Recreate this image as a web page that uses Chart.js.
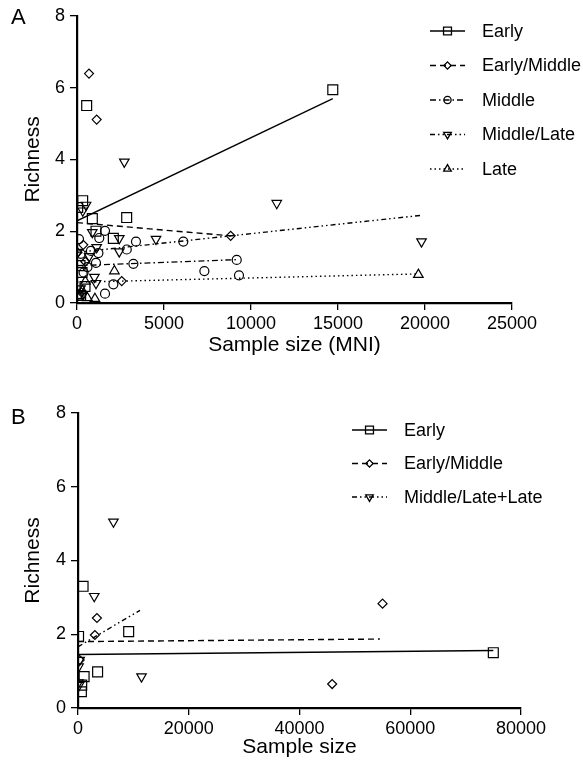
<!DOCTYPE html>
<html>
<head>
<meta charset="utf-8">
<script src="https://cdn.jsdelivr.net/npm/chart.js@4.4.0/dist/chart.umd.min.js"></script>
<style>
  body { margin: 0; background: #fff; }
  #wrap { position: relative; width: 583px; height: 770px; }
  canvas { position: absolute; left: 0; }
  .tag { position: absolute; left: 11px; font: 22px "Liberation Sans", Arial, sans-serif; color: #000; }
</style>
</head>
<body>
<div id="wrap">
  <canvas id="chart-a" width="583" height="390" style="top:0"></canvas>
  <canvas id="chart-b" width="583" height="380" style="top:390px"></canvas>
  <div class="tag" style="top:4px">A</div>
  <div class="tag" style="top:404px">B</div>
</div>
<script>
const FONT = '"Liberation Sans", Arial, Helvetica, sans-serif';

// ---- panel A ----
const aTicksX = [0, 5000, 10000, 15000, 20000, 25000];
const aTicksY = [0, 2, 4, 6, 8];
const aLabels = ["Early", "Early/Middle", "Middle", "Middle/Late", "Late"];

const aEarlyX = [14700, 556, 326, 40, 881, 2855, 1092, 2088, 460, 210, 172, 290];
const aEarlyY = [5.94, 5.5, 2.85, 2.66, 2.35, 2.38, 2.0, 1.8, 0.46, 0.21, 1.04, 0.85];
const aEarlyMidX = [690, 1130, 8830, 2570, 30, 360, 250, 480];
const aEarlyMidY = [6.39, 5.11, 1.87, 0.61, 1.41, 1.62, 0.3, 1.15];
const aMiddleX = [6110, 9180, 9310, 7320, 3390, 2860, 3240, 1610, 1280, 115, 2090, 1610, 1090, 1230, 210, 600, 150, 380, 800, 80];
const aMiddleY = [1.71, 1.2, 0.77, 0.89, 1.71, 1.49, 1.09, 2.01, 1.81, 1.78, 0.52, 0.26, 1.12, 1.39, 1.37, 1.0, 0.2, 0.85, 1.45, 0.25];
const aMidLateX = [2720, 11480, 19800, 4540, 2430, 2430, 880, 520, 330, 1130, 1000, 1090, 40, 700, 200];
const aMidLateY = [3.93, 2.78, 1.71, 1.78, 1.8, 1.43, 1.97, 2.73, 2.57, 1.55, 0.72, 0.55, 1.41, 1.3, 0.4];
const aLateX = [19620, 2150, 1030, 600, 300, 100, 480];
const aLateY = [0.79, 0.89, 0.12, 0.14, 0.35, 0.2, 0.6];

// fitted lines: start / end
const aFitX = [[0, 14700], [0, 8830], [0, 9300], [0, 19750], [0, 19600]];
const aFitY = [[2.29, 5.69], [2.24, 1.87], [1.04, 1.21], [1.41, 2.44], [0.58, 0.81]];

// ---- panel B ----
const bTicksX = [0, 20000, 40000, 60000, 80000];
const bTicksY = [0, 2, 4, 6, 8];
const bLabels = ["Early", "Early/Middle", "Middle/Late+Late"];

const bEarlyX = [915, 100, 9150, 3540, 1100, 670, 610, 75000];
const bEarlyY = [3.3, 1.94, 2.07, 0.98, 0.85, 0.62, 0.44, 1.5];
const bEarlyMidX = [3420, 3050, 55000, 45900, 300];
const bEarlyMidY = [2.44, 1.98, 2.83, 0.65, 1.3];
const bMidLateX = [6400, 2930, 11470, 300, 100, 100, 200];
const bMidLateY = [5.05, 3.03, 0.85, 1.3, 1.12, 0.69, 0.62];

const bFitX = [[0, 75000], [0, 54500], [0, 11200]];
const bFitY = [[1.45, 1.56], [1.8, 1.87], [1.66, 2.65]];

// marker + line style per group
const STYLE = {
  early:   { point: "rect",     rot: 0,   r: 7,   dash: [] },
  earlyMid:{ point: "rectRot",  rot: 0,   r: 4.5, dash: [6, 4] },
  middle:  { point: "circle",   rot: 0,   r: 4.5, dash: [6, 3, 1.5, 3] },
  midLate: { point: "triangle", rot: 180, r: 5.5, dash: [5, 3, 1.5, 3, 1.5, 3] },
  late:    { point: "triangle", rot: 0,   r: 5.5, dash: [1.5, 3] },
};

function drawMarker(ctx, st, x, y, r) {
  ctx.beginPath();
  if (st.point === "rect") {
    const s = r * Math.SQRT2;
    ctx.rect(x - s / 2, y - s / 2, s, s);
  } else if (st.point === "rectRot") {
    ctx.moveTo(x, y - r); ctx.lineTo(x + r, y); ctx.lineTo(x, y + r); ctx.lineTo(x - r, y); ctx.closePath();
  } else if (st.point === "circle") {
    ctx.arc(x, y, r, 0, Math.PI * 2);
  } else {
    const d = st.rot ? -1 : 1;
    ctx.moveTo(x, y - d * r);
    ctx.lineTo(x + r * 0.866, y + d * r * 0.5);
    ctx.lineTo(x - r * 0.866, y + d * r * 0.5);
    ctx.closePath();
  }
  ctx.stroke();
}

const panelLegend = {
  id: "panelLegend",
  afterDatasetsDraw(chart, args, opts) {
    const ctx = chart.ctx;
    opts.keys.forEach((key, i) => {
      const st = STYLE[key];
      const y = opts.y + i * opts.gap;
      ctx.save();
      ctx.strokeStyle = "#000";
      ctx.lineWidth = 1.3;
      ctx.setLineDash(st.dash);
      ctx.beginPath();
      ctx.moveTo(opts.x, y);
      ctx.lineTo(opts.x + 35, y);
      ctx.stroke();
      ctx.setLineDash([]);
      drawMarker(ctx, st, opts.x + 17.5, y, st.r * 0.8);
      ctx.fillStyle = "#000";
      ctx.font = "18px " + FONT;
      ctx.textBaseline = "middle";
      ctx.fillText(opts.labels[i], opts.x + 52, y + 1);
      ctx.restore();
    });
  },
};

function makePanel(canvasId, p) {
  const datasets = [];
  p.groups.forEach((key, i) => {
    const st = STYLE[key];
    datasets.push({
      label: p.labels[i],
      data: p.xs[i].map((x, j) => ({ x: x, y: p.ys[i][j] })),
      pointStyle: st.point,
      pointRotation: st.rot,
      pointRadius: st.r,
      pointBorderWidth: 1.2,
      pointBorderColor: "#000",
      pointBackgroundColor: "transparent",
      order: 0,
    });
    datasets.push({
      label: p.labels[i] + " fit",
      data: p.fitX[i].map((x, j) => ({ x: x, y: p.fitY[i][j] })),
      showLine: true,
      pointRadius: 0,
      borderColor: "#000",
      borderWidth: 1.4,
      borderDash: st.dash,
      order: 1,
    });
  });

  const tickFont = { family: FONT, size: 18 };
  const titleFont = { family: FONT, size: 21 };

  return new Chart(document.getElementById(canvasId), {
    type: "scatter",
    data: { datasets: datasets },
    plugins: [panelLegend],
    options: {
      responsive: false,
      devicePixelRatio: 1,
      animation: false,
      layout: { padding: p.padding },
      plugins: {
        legend: { display: false },
        tooltip: { enabled: false },
        panelLegend: { keys: p.groups, labels: p.labels, x: p.legendX, y: p.legendY, gap: p.legendGap },
      },
      scales: {
        x: {
          type: "linear",
          min: p.ticksX[0],
          max: p.ticksX[p.ticksX.length - 1],
          ticks: {
            stepSize: p.ticksX[1] - p.ticksX[0],
            color: "#000",
            font: tickFont,
            padding: 3,
            maxRotation: 0,
            autoSkip: false,
            callback: (v) => String(v),
          },
          grid: { drawOnChartArea: false, drawTicks: true, tickLength: 7, color: "#000", lineWidth: 1.3 },
          border: { display: true, color: "#000", width: 2.2 },
          title: { display: true, text: p.titleX, color: "#000", font: titleFont, padding: 0 },
          afterFit: (s) => { s.height = p.xHeight; },
        },
        y: {
          type: "linear",
          min: p.ticksY[0],
          max: p.ticksY[p.ticksY.length - 1],
          ticks: { stepSize: p.ticksY[1] - p.ticksY[0], color: "#000", font: tickFont, padding: 5, callback: (v) => String(v) },
          grid: { drawOnChartArea: false, drawTicks: true, tickLength: 7, color: "#000", lineWidth: 1.3 },
          border: { display: true, color: "#000", width: 2.2 },
          title: { display: true, text: "Richness", color: "#000", font: titleFont, padding: 0 },
          afterFit: (s) => { s.width = p.yWidth; },
        },
      },
    },
  });
}

makePanel("chart-a", {
  groups: ["early", "earlyMid", "middle", "midLate", "late"],
  labels: aLabels,
  xs: [aEarlyX, aEarlyMidX, aMiddleX, aMidLateX, aLateX],
  ys: [aEarlyY, aEarlyMidY, aMiddleY, aMidLateY, aLateY],
  fitX: aFitX,
  fitY: aFitY,
  ticksX: aTicksX,
  ticksY: aTicksY,
  titleX: "Sample size (MNI)",
  padding: { left: 21, right: 71, top: 14, bottom: 32 },
  xHeight: 55,
  yWidth: 56,
  legendX: 430,
  legendY: 31,
  legendGap: 34.5,
});

makePanel("chart-b", {
  groups: ["early", "earlyMid", "midLate"],
  labels: bLabels,
  xs: [bEarlyX, bEarlyMidX, bMidLateX],
  ys: [bEarlyY, bEarlyMidY, bMidLateY],
  fitX: bFitX,
  fitY: bFitY,
  ticksX: bTicksX,
  ticksY: bTicksY,
  titleX: "Sample size",
  padding: { left: 21, right: 62, top: 23, bottom: 10 },
  xHeight: 52,
  yWidth: 57,
  legendX: 352,
  legendY: 40,
  legendGap: 33.5,
});
</script>
</body>
</html>
